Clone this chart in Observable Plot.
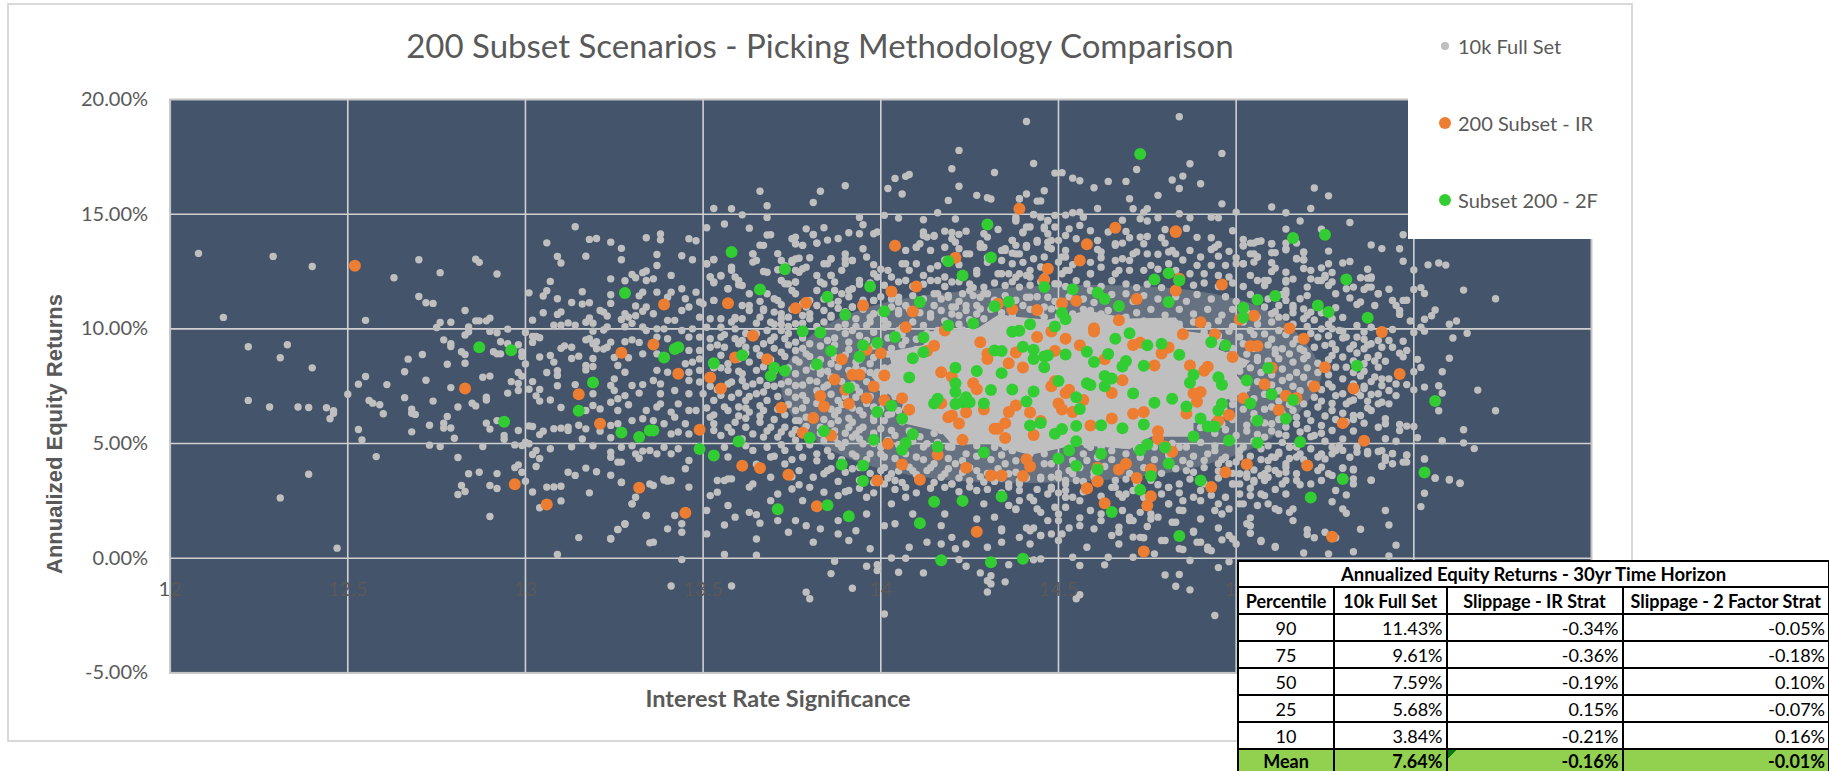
<!DOCTYPE html>
<html><head><meta charset="utf-8">
<script src="https://cdn.jsdelivr.net/npm/d3@7"></script>
<script src="https://cdn.jsdelivr.net/npm/@observablehq/plot@0.6"></script>
<style>
html,body{margin:0;padding:0;background:#fff;width:1829px;height:771px;overflow:hidden}
#root{position:relative;width:1829px;height:771px;font-family:Lato,sans-serif;color:#595959}
#root svg{position:absolute;left:0;top:0}
.abs{position:absolute;white-space:nowrap}
.sw{position:absolute;border-radius:50%}
table{position:absolute;left:1237px;top:560px;border-collapse:collapse;table-layout:fixed;width:591px;font-family:Lato,sans-serif;color:#000;background:#fff;font-size:18px}
td{border:2px solid #000;padding:0 3px;line-height:1;overflow:hidden;white-space:nowrap;box-sizing:border-box}
td.n{text-align:right}td.c{text-align:center}
tr.h td{font-weight:700;text-align:center}
tr.m td{background:#92d050;font-weight:700}
td.flag{background:linear-gradient(135deg,#0a7a0a 0 6px,#92d050 6px)!important}
</style></head><body><div id="root"></div>
<script>
const xGridValues=[12.5,13,13.5,14,14.5,15,15.5];
const xLabelValues=[12,12.5,13,13.5,14,14.5,15];
const yTickValues=[-5,0,5,10,15,20];
const coreOutline=[14,7.4,13.97,8,14.03,8.5,14.02,9,14.12,9.3,14.14,9.9,14.27,10,14.33,10.6,14.47,10.4,14.58,10.8,14.7,10.45,14.83,10.5,14.86,9.9,14.96,9.7,14.95,9.1,15.04,8.6,15,8,15.04,7.3,14.97,6.9,14.98,6.2,14.88,5.9,14.88,5.3,14.76,5.3,14.7,4.75,14.55,4.95,14.42,4.5,14.3,5,14.2,4.95,14.17,5.5,14.06,5.9,14.07,6.6];
const midOutline=[13.72,7.5,13.76,9,13.85,10.2,14,11.1,14.2,11.6,14.5,11.9,14.8,11.8,15,11.3,15.12,10.5,15.2,9.3,15.24,8,15.2,6.8,15.12,5.5,15,4.5,14.8,3.7,14.5,3.3,14.2,3.4,14,3.9,13.85,4.8,13.76,6];
const fullSet=[
12.08,13.29,12.29,13.16,12.40,12.72,12.15,10.50,12.55,10.37,12.22,9.22,12.33,9.31,12.31,8.74,12.63,12.23,12.70,13.01,12.76,12.45,12.86,13.04,12.87,12.90,12.92,12.39,12.70,11.41,12.72,11.14,12.74,11.11,12.83,10.80,12.76,10.28,12.79,10.29,12.75,10.06,12.86,10.35,12.87,10.35,12.89,10.35,12.90,10.47,12.84,10.08,12.84,9.87,12.83,9.73,12.90,9.89,12.92,9.83,12.95,9.99,12.77,9.52,12.79,9.35,12.79,9.23,12.71,8.88,12.67,8.68,12.82,9.0,12.83,8.88,12.93,9.44,12.95,9.35,12.98,9.31,12.91,9.0,12.92,8.91,12.93,8.91,12.99,8.99,12.99,8.8,13.00,9.84,13.02,9.67,13.03,9.67,13.04,9.61,13.02,9.41,13.14,14.45,13.06,13.75,13.18,13.9,13.20,13.94,13.24,13.78,13.27,13.51,13.34,13.97,13.09,13.16,13.10,12.87,13.17,13.17,13.27,13.01,13.24,12.18,13.28,12.1,13.30,12.37,13.31,12.23,13.33,12.45,13.34,12.52,13.34,12.11,13.07,12.07,13.01,11.57,13.06,11.66,13.05,11.43,13.09,11.31,13.16,11.62,13.13,11.15,13.16,11.08,13.18,11.14,13.24,11.11,13.24,11.49,13.32,11.44,13.33,11.6,13.31,11.0,13.05,10.7,13.10,10.74,13.09,10.63,13.02,10.38,13.08,10.16,13.10,10.16,13.12,10.26,13.14,10.16,13.17,10.29,13.18,10.48,13.19,10.25,13.21,10.8,13.22,10.73,13.23,10.56,13.27,10.41,13.28,10.66,13.29,10.51,13.31,10.57,13.33,10.77,13.34,10.95,13.30,10.24,13.28,10.09,13.33,10.08,13.23,10.08,13.22,9.95,13.19,9.9,13.34,9.93,13.17,9.52,13.18,9.57,13.19,9.35,13.20,9.44,13.24,9.42,13.28,9.44,13.30,9.52,13.32,9.41,13.10,9.15,13.11,9.26,13.13,9.2,13.20,9.13,13.22,9.12,13.23,9.2,13.04,8.77,13.07,8.84,13.13,8.71,13.15,8.81,13.19,8.71,13.25,8.75,13.29,8.74,13.33,8.91,
12.40,8.3,12.22,6.88,12.28,6.59,12.36,6.59,12.39,6.57,12.44,6.56,12.46,6.43,12.46,6.32,12.45,6.08,12.50,7.15,12.55,7.92,12.53,7.59,12.61,7.57,12.66,8.13,12.72,7.76,12.56,6.88,12.57,6.76,12.59,6.69,12.60,6.3,12.66,7.0,12.74,6.85,12.68,6.5,12.68,6.32,12.69,6.27,12.68,5.51,12.53,5.61,12.54,5.16,12.73,5.8,12.77,5.89,12.77,5.68,12.79,5.68,12.78,6.18,12.79,7.44,12.78,8.46,12.83,8.5,12.88,7.89,12.90,7.94,12.81,6.59,12.85,6.76,12.86,6.64,12.89,6.9,12.89,7.02,12.95,7.2,12.89,5.89,12.90,5.63,12.92,6.0,12.80,5.23,12.73,4.93,12.76,4.87,12.88,4.87,12.98,5.57,12.94,5.35,12.94,5.19,12.97,4.94,12.99,4.91,12.58,4.43,12.81,4.39,12.39,3.66,12.31,2.63,12.47,0.44,12.84,3.68,12.87,3.75,12.92,3.69,12.97,3.95,12.98,4.07,12.99,3.75,13.0,3.36,12.82,3.17,12.81,2.78,12.83,2.91,12.90,3.17,12.92,3.04,12.90,1.82,13.0,8.47,12.98,8.1,12.99,7.94,12.96,7.7,12.98,7.62,12.98,7.31,13.01,7.37,13.02,7.7,13.04,7.36,13.03,7.08,13.04,6.85,13.07,6.9,13.10,6.57,13.06,8.1,13.09,7.97,13.09,8.18,13.08,8.55,13.14,7.57,13.09,7.52,13.01,5.77,13.02,5.74,13.05,5.54,13.04,5.39,13.08,5.65,13.10,5.67,13.12,5.71,13.12,5.57,13.15,5.8,13.17,5.64,13.16,5.2,13.01,4.99,13.0,5.06,13.07,4.77,13.13,4.86,13.03,4.7,13.02,4.52,13.04,4.35,13.03,4.0,13.12,3.75,13.14,3.61,13.17,3.93,13.20,3.77,13.24,3.62,13.27,3.3,13.02,2.89,13.06,3.1,13.08,3.11,13.10,3.14,13.18,2.85,13.10,2.5,13.04,2.2,13.31,2.66,13.30,2.37,13.34,1.86,13.28,1.48,13.26,1.25,13.15,0.9,13.24,0.86,13.09,0.16,13.35,0.67,13.19,8.36,13.17,8.4,13.17,8.21,13.26,8.4,13.28,8.11,13.24,7.53,13.25,7.31,13.25,7.82,13.19,7.17,13.30,7.53,13.33,7.57,13.32,7.2,13.28,7.09,13.26,6.95,13.24,6.8,13.29,6.69,13.26,6.44,13.19,6.66,13.21,6.51,13.17,6.44,13.34,6.44,13.30,6.0,13.33,6.08,13.26,5.86,13.24,5.79,13.21,5.54,13.24,5.25,13.27,4.84,13.30,4.9,13.19,4.9,13.24,4.62,13.24,4.4,13.26,4.19,13.27,4.19,13.31,4.55,13.32,4.36,13.33,4.67,13.35,4.7,13.35,3.24,
15.47,14.1,15.38,13.66,15.41,13.5,15.46,13.49,15.47,12.95,15.54,12.79,15.57,12.87,15.59,12.78,15.50,12.57,15.64,11.69,15.52,11.8,15.50,11.72,15.53,11.54,15.73,11.31,15.43,11.73,15.40,11.53,15.36,11.72,15.38,11.82,15.44,11.24,15.45,11.02,15.47,11.24,15.48,11.25,15.46,10.8,15.46,10.63,15.39,11.02,15.35,11.17,15.56,10.82,15.55,10.57,15.53,10.42,15.49,10.34,15.60,10.2,15.62,10.34,15.52,10.07,15.53,9.9,15.50,9.84,15.44,9.97,15.65,9.81,15.61,9.6,15.47,9.46,15.43,9.49,15.48,9.06,15.44,9.2,15.46,8.94,15.47,8.78,15.51,8.67,15.60,8.72,15.52,8.32,15.50,8.13,15.58,8.13,15.57,7.52,15.53,7.46,15.58,7.2,15.68,7.33,15.50,7.34,15.48,7.57,15.57,6.43,15.73,6.43,15.64,5.6,15.58,5.12,15.64,5.03,15.67,4.78,15.51,5.25,15.50,5.74,15.48,5.76,15.46,5.83,15.46,5.57,15.45,5.1,15.42,6.08,15.42,5.86,15.40,5.71,15.36,5.89,15.42,5.21,15.40,4.65,15.37,4.65,15.44,4.57,15.48,4.49,15.53,4.33,15.47,4.19,15.41,4.01,15.44,4.12,15.42,4.26,15.56,3.5,15.60,3.43,15.63,3.27,15.38,3.4,15.30,3.94,15.33,3.88,15.33,3.24,
15.26,13.39,15.30,12.87,15.32,12.94,15.37,12.6,15.26,12.84,15.19,13.35,15.17,13.05,15.19,13.01,15.10,13.32,15.10,13.71,15.14,13.49,15.06,13.81,15.04,13.74,15.02,13.64,15.04,13.27,15.06,13.13,15.05,12.91,15.02,12.84,15.10,12.88,15.11,12.65,15.14,12.47,15.19,12.63,15.21,12.55,15.24,12.66,15.27,12.46,15.35,12.23,15.38,12.21,15.21,12.18,15.25,12.25,15.23,12.11,15.26,11.89,15.28,11.53,15.31,11.75,15.33,11.82,15.32,11.35,15.34,11.06,15.28,10.92,15.2,11.82,15.2,11.45,15.18,11.31,15.16,12.17,15.14,12.04,15.08,12.11,15.08,11.89,15.14,11.67,15.12,11.02,15.14,11.24,15.16,11.02,15.19,10.87,15.21,10.73,15.12,10.51,15.19,10.44,15.22,10.39,15.27,10.44,15.24,10.0,15.27,10.0,15.29,9.93,15.34,10.15,15.36,9.86,15.38,10.07,15.31,9.64,15.34,9.64,15.38,9.35,15.40,9.49,15.41,9.2,15.40,8.84,15.36,9.13,15.32,9.13,15.27,9.35,15.25,9.28,15.23,9.64,15.27,8.84,15.30,8.77,15.2,8.84,15.15,8.91,15.13,9.13,15.18,9.13,15.28,8.33,15.31,8.33,15.36,8.48,15.40,8.33,15.42,8.59,15.39,7.9,15.41,7.82,15.43,7.82,15.45,7.6,15.41,7.53,15.43,7.31,15.45,7.09,15.40,7.17,15.38,7.14,15.35,7.09,15.30,7.82,15.27,7.46,15.28,7.09,15.30,7.17,15.19,7.89,15.15,7.89,15.22,7.02,15.23,6.59,15.27,6.44,15.31,6.73,15.35,6.22,15.38,6.44,15.41,6.8,15.43,6.73,15.40,6.73,15.33,6.22,15.30,6.32,15.21,6.0,15.24,5.79,15.27,5.57,15.22,5.35,15.27,4.84,15.29,4.91,15.34,4.84,15.34,4.62,15.21,4.77,15.25,4.33,15.27,4.55,15.23,4.41,15.15,4.84,15.17,4.41,15.12,4.62,15.10,4.41,15.14,4.12,15.11,3.83,15.08,3.68,15.17,3.68,15.23,3.82,15.27,3.61,15.21,3.24,15.13,3.24,15.05,3.32,14.99,3.24,15.03,3.53,14.98,4.12,14.95,4.12,14.87,4.12,15.01,4.41,15.08,5.28,15.12,5.42,15.14,5.72,15.10,5.86,15.17,6.15,15.19,6.73,15.10,6.59,15.13,7.75,15.11,8.91,15.06,8.62,15.02,8.48,15.04,9.93,15.08,9.78,15.12,9.93,15.10,10.66,15.08,10.95,15.14,10.51,
14.41,19.04,14.84,19.25,14.43,17.21,14.49,16.79,14.51,16.81,14.54,16.57,14.56,16.46,14.60,16.15,14.64,16.43,14.69,16.43,14.72,16.95,14.82,16.49,14.85,16.66,14.87,17.2,14.90,16.33,14.84,16.12,14.96,17.65,14.78,15.82,14.70,15.67,14.96,15.45,14.46,16.02,14.41,15.88,14.39,15.67,14.45,15.58,14.61,15.25,14.71,15.24,14.75,15.24,14.74,15.09,15.22,16.14,15.26,15.8,15.10,15.31,15.14,15.06,15.21,15.25,15.0,15.09,15.18,14.7,15.32,14.64,15.14,14.35,15.24,14.34,
14.84,15.02,14.87,14.84,14.93,14.87,14.95,14.84,14.78,14.84,14.68,14.74,14.73,14.8,14.75,14.7,14.86,14.38,14.99,14.28,14.80,14.33,14.89,13.99,14.93,13.97,15.02,13.9,15.02,13.61,15.05,13.74,15.07,13.83,15.10,13.71,15.11,13.32,15.14,13.74,15.17,13.74,15.14,13.45,15.19,13.33,15.17,13.07,15.19,13.01,15.05,13.27,15.06,13.13,15.02,12.84,14.94,13.56,14.95,13.68,14.87,13.42,14.90,13.13,14.95,13.17,14.98,13.38,14.93,13.46,14.82,13.42,14.81,13.35,14.83,13.27,14.73,14.0,14.75,14.03,14.79,13.97,14.80,13.74,14.70,13.97,14.68,13.74,14.74,13.71,14.72,13.35,14.75,13.27,14.78,13.25,14.66,13.64,14.64,14.22,14.69,14.25,14.59,14.28,14.55,13.93,14.53,14.36,14.56,14.51,14.56,15.09,14.54,15.06,14.52,14.96,14.57,14.87,14.45,14.87,14.47,14.7,14.49,14.95,14.43,14.99,14.38,14.87,14.38,14.7,14.42,14.44,14.40,14.22,14.46,14.36,14.49,14.44,14.47,14.15,14.52,14.07,14.37,13.86,14.44,13.78,14.50,13.86,14.48,13.86,14.41,13.61,14.48,13.49,14.38,13.64,14.35,13.49,14.37,13.3,14.43,13.06,14.46,13.13,14.50,12.91,14.52,13.13,14.61,13.46,14.62,13.35,14.66,12.98,14.68,13.06,14.71,13.27,14.70,12.98,14.81,12.84,14.76,12.77,14.74,12.55,14.89,12.77,14.93,12.77,14.97,12.77,15.0,12.84,14.91,12.4,14.95,12.33,14.98,12.26,14.87,12.4,14.70,12.55,14.66,12.4,14.62,12.69,14.59,12.4,14.53,12.55,14.51,12.4,14.46,12.26,14.39,12.4,14.36,12.4,15.37,12.21,15.38,12.26,15.37,11.82,15.24,12.11,15.25,12.33,15.27,12.04,15.14,12.11,15.09,12.11,15.06,12.11,15.04,12.33,15.14,11.53,15.40,11.53,
14.22,17.78,14.20,16.98,14.32,16.82,14.08,16.73,14.07,16.65,14.04,16.56,14.02,16.12,14.06,15.88,14.22,16.22,14.27,15.82,14.19,15.6,14.30,15.72,14.31,15.66,14.39,15.67,14.44,15.57,13.90,16.24,13.83,16.0,13.66,16.0,13.81,15.51,13.68,15.37,13.53,15.25,13.58,15.24,13.61,14.97,13.68,14.86,13.94,14.86,14.16,15.06,14.01,14.95,14.05,14.83,14.12,14.76,14.21,14.79,14.43,14.97,14.47,14.73,13.51,14.41,13.56,14.57,13.63,14.39,13.79,14.36,13.84,14.41,13.68,14.09,13.81,14.1,13.95,14.54,13.94,14.15,13.91,14.19,13.98,14.15,13.99,14.22,13.75,13.93,13.82,13.74,13.85,13.87,13.88,13.94,13.66,13.65,13.76,13.71,13.78,13.64,14.12,14.22,14.15,14.04,14.18,14.26,14.20,14.2,14.24,14.26,14.33,14.33,14.29,14.15,14.41,14.44,14.38,14.77,14.46,14.44,14.44,13.86,14.40,14.19,14.37,13.86,14.22,14.12,14.13,14.0,14.11,13.71,14.10,13.56,14.07,13.42,14.14,13.42,14.21,13.78,14.18,13.56,14.28,13.71,14.29,13.56,14.25,13.27,14.34,13.42,14.38,13.27,14.41,13.64,14.47,13.56,13.51,12.84,13.53,13.01,13.64,13.27,13.65,12.98,13.72,12.98,13.77,13.08,13.86,13.06,13.90,13.27,13.95,13.49,13.96,13.13,13.92,12.98,13.85,12.84,13.79,12.69,13.90,12.84,13.58,12.69,13.52,12.26,13.55,12.3,13.59,12.26,13.53,12.01,13.57,11.75,13.60,11.92,13.67,12.5,13.71,12.58,13.76,12.55,13.73,11.97,13.77,12.47,13.76,12.04,13.83,12.04,13.86,12.33,13.91,11.67,13.94,11.94,13.99,12.26,14.02,12.55,14.06,12.84,14.08,12.55,14.14,12.11,14.18,12.26,14.12,12.33,14.27,12.4,14.34,12.98,14.37,12.84,14.34,12.4,14.41,12.33,14.51,13.13,13.50,11.09,13.53,11.24,13.59,10.5,13.63,11.02,13.67,10.8,13.71,11.24,13.75,11.67,13.80,11.24,13.87,11.67,13.92,10.95,13.98,11.24,14.05,11.38,14.16,11.53,14.19,11.38,14.25,11.67,14.29,11.53,14.42,12.26,14.49,11.97,13.72,10.66,13.80,10.66,13.86,10.51,13.97,10.51,14.05,10.8,14.14,10.66,14.21,10.95,14.27,11.02,14.42,11.38,14.46,10.95,
13.41,-1.21,13.58,-1.21,13.79,-1.48,13.80,-1.77,13.92,-1.31,14.01,-2.43,13.86,-0.67,13.96,-0.35,13.99,-0.28,13.99,-0.54,14.05,-0.61,14.12,-0.64,14.28,-0.64,14.31,-0.76,14.30,-0.98,14.31,-1.12,14.35,-1.03,14.30,-1.47,14.56,-1.59,14.55,-1.77,14.8,-0.73,14.84,-0.71,14.83,-1.22,14.87,-1.38,14.94,-2.5,14.95,-0.41,14.98,-0.15,14.87,-0.1,14.63,-0.29,14.56,-0.32,14.24,-0.35,14.22,-0.06,14.07,0.0,14.03,0.01,13.87,-0.13,13.65,0.13,13.56,0.16,13.44,-0.06,14.45,-0.03,14.43,-0.07,14.36,-0.28,14.77,0.19,14.71,0.04,14.64,0.04,14.54,0.04,14.92,0.38,14.98,0.99,15.0,0.62,14.84,0.41,14.89,0.7,14.88,1.13,14.79,0.77,14.67,0.62,14.73,0.91,14.58,0.48,14.5,0.77,14.45,0.99,14.42,0.62,14.39,0.91,14.34,0.7,14.30,0.48,14.24,0.62,14.21,0.41,14.20,0.91,14.17,0.62,14.13,0.7,14.08,0.48,13.97,0.41,13.91,0.77,13.88,1.06,13.81,0.7,13.74,1.13,13.65,0.84,13.51,1.06,13.44,1.13,13.36,0.7,13.24,0.84,13.26,1.25,13.28,1.5,13.34,1.86,13.40,1.28,13.42,1.86,13.44,1.5,13.56,1.45,13.66,1.53,13.59,1.79,13.65,1.9,13.71,1.64,13.76,1.64,13.79,1.42,13.83,1.28,13.88,1.64,13.93,1.2,14.01,1.42,14.04,1.5,13.96,1.93,14.09,1.93,14.17,1.42,14.18,1.93,14.27,1.71,14.34,1.28,14.32,1.79,14.42,1.2,14.47,1.64,14.50,1.93,14.56,1.42,14.60,1.28,14.67,1.13,14.71,1.64,14.78,1.79,14.83,1.57,14.84,2.09,14.76,1.93,14.59,2.08,14.52,2.22,14.44,2.15,14.38,2.15,14.29,2.37,14.07,2.66,14.03,2.37,13.96,2.66,13.88,2.73,13.78,2.51,13.71,2.8,13.63,2.0,13.57,2.3,13.51,2.08,13.52,2.73,13.54,2.88,13.39,3.41,13.40,3.36,13.36,3.17,13.30,2.37,13.27,3.31,13.46,3.1,13.54,3.39,13.57,3.46,13.64,3.24,13.69,2.51,13.75,3.02,13.80,3.09,13.84,2.88,13.91,2.95,14.01,3.24,14.07,3.09,14.18,3.09,14.27,2.95,14.42,2.66,14.47,2.8,14.54,2.66,14.69,2.8,14.81,2.37,14.88,2.66,14.97,2.66,14.94,2.08,15.02,2.37,15.07,0.77,15.11,0.48,15.03,1.5,15.12,2.08,15.07,2.8,15.16,1.64,
15.42,2.08,15.43,1.45,15.35,1.26,15.25,1.13,15.28,0.89,15.20,1.24,15.20,1.03,15.22,0.89,15.45,0.57,15.33,0.28,15.19,0.23,15.26,0.19,15.43,0.1,15.11,0.51,15.07,0.73,15.04,1.09,15.04,1.42,15.04,1.76,15.53,4.33,15.56,3.49,15.60,3.41,15.63,3.27,15.53,2.83,15.52,2.25,15.38,3.4,15.31,2.76,15.27,2.46,15.30,2.15,15.31,1.96,15.16,2.15,15.15,2.0,15.11,2.16,15.14,2.8,15.28,2.95,15.48,4.19,15.44,4.55,15.48,4.5,15.42,4.4,15.41,4.01,15.30,3.92,15.33,3.85,15.33,3.46,15.08,2.73,15.04,2.73,15.09,2.37,15.01,2.37,15.06,2.3,15.01,2.8,14.85,0.38,14.92,0.48,14.93,0.33,14.90,0.7,14.96,0.8,14.95,1.32,14.90,1.71,14.99,0.84,14.88,1.18,14.80,0.77,14.74,0.89,14.71,0.92,14.75,1.38,14.70,1.64,14.62,1.64,14.53,1.32,14.51,1.06,14.48,1.06,14.45,0.99,14.43,1.32,14.41,1.32,14.34,1.2,14.65,0.99,14.67,1.35,14.38,2.12,14.45,2.0,14.50,1.64,14.56,1.76,14.62,1.93,14.70,1.79,14.76,1.71,14.82,1.57,14.85,2.08,14.96,1.93,14.98,2.15,14.81,2.37,14.85,2.51,14.90,2.51,14.95,2.37,14.73,2.0,14.79,2.8,14.68,2.08,14.56,2.51,14.52,2.66,14.48,3.02,14.43,2.51,14.39,2.51,14.36,2.3,14.49,2.22,
13.38,14.14,13.38,13.88,13.46,13.93,13.48,13.84,13.69,14.1,13.76,14.0,13.81,14.12,13.67,13.64,13.76,13.71,13.78,13.64,13.82,13.74,13.37,13.24,13.44,13.19,13.47,13.01,13.64,13.27,13.64,12.91,13.53,13.03,13.76,13.05,13.75,12.98,13.78,12.62,13.84,12.84,13.86,13.05,13.90,13.05,13.92,12.98,13.89,12.55,13.37,12.76,13.51,12.84,13.58,12.55,13.68,12.47,13.82,12.33,13.86,12.33,13.41,12.33,13.52,12.26,13.55,12.33,13.60,12.11,13.72,12.11,13.76,12.04,13.84,11.96,13.87,12.04,13.92,11.75,13.94,12.11,13.36,12.18,13.53,12.04,13.61,11.89,13.74,11.96,13.37,11.6,13.41,11.6,13.44,11.75,13.48,11.6,13.57,11.75,13.63,11.53,13.68,11.53,13.70,11.31,13.76,11.53,13.82,11.67,13.89,11.53,13.45,11.31,13.40,11.38,13.46,10.95,13.49,11.17,13.53,11.24,13.61,11.02,13.63,10.8,13.67,10.87,13.70,10.73,13.74,10.51,13.82,11.02,13.86,11.09,13.92,10.95,13.98,11.24,13.44,10.8,13.36,10.66,13.40,10.37,13.42,10.37,13.49,10.51,13.52,10.44,13.55,10.44,13.59,10.44,13.61,10.44,13.66,10.51,13.69,10.29,13.72,10.44,13.78,10.58,13.80,10.44,13.86,10.58,13.93,10.44,13.98,10.66,14.05,10.66,13.37,10.0,13.39,10.0,13.44,9.93,13.47,10.0,13.51,10.07,13.55,10.07,13.59,10.0,13.68,9.93,13.72,9.93,13.76,10.22,13.88,10.07,13.92,9.93,13.96,10.15,14.01,10.07,13.37,9.64,13.40,9.57,13.46,9.64,13.49,9.64,13.52,9.57,13.55,9.64,13.59,9.57,13.61,9.49,13.69,9.49,13.73,9.57,13.76,9.42,13.80,9.35,13.85,9.49,13.91,9.42,14.07,9.49,13.46,9.06,13.49,9.06,13.56,9.2,13.65,9.13,13.72,8.98,13.76,9.06,13.79,8.91,13.37,8.91,13.47,8.55,13.49,8.69,13.45,8.48,13.57,8.48,13.63,8.55,13.77,8.55,13.86,8.48,13.97,8.48,14.04,8.62,13.37,8.19,13.40,8.11,13.46,8.11,13.49,8.19,13.57,8.19,13.61,8.04,13.65,8.19,13.76,8.04,13.83,8.04,13.99,8.11,13.36,7.75,13.38,7.6,13.46,7.75,13.49,7.68,13.58,7.68,13.61,7.75,13.64,7.6,13.68,7.53,13.72,7.6,13.76,7.53,13.80,7.75,13.38,7.17,13.42,7.31,13.46,7.17,13.50,7.17,13.53,6.88,13.58,7.02,13.62,6.88,13.65,7.17,13.68,6.88,13.76,7.02,13.79,6.88,13.88,6.88,13.37,6.59,13.38,6.73,13.41,6.37,13.43,6.73,13.46,6.44,13.48,6.44,13.52,6.15,13.57,6.44,13.60,6.59,13.63,6.37,13.67,6.44,13.76,6.44,13.79,6.15,13.36,6.0,13.39,5.86,13.42,6.15,13.45,5.86,13.53,5.86,13.59,5.93,13.62,5.71,13.66,5.93,13.69,5.71,13.73,5.71,13.76,6.0,13.88,6.0,13.92,5.93,13.98,6.0,13.41,5.42,13.43,5.5,13.46,5.42,13.53,5.57,13.55,5.35,13.58,5.5,13.64,5.42,13.67,5.28,13.71,5.28,13.75,5.42,13.83,5.71,13.93,5.42,14.03,5.57,13.39,4.84,13.43,4.77,13.41,4.55,13.37,4.55,13.46,4.26,13.45,3.9,13.56,4.84,13.57,4.41,13.64,4.7,13.68,4.84,13.69,4.41,13.73,4.7,13.77,4.84,13.82,4.55,13.85,4.7,13.89,4.84,13.92,4.55,13.97,4.55,14.01,4.41,14.10,4.41,14.20,4.84,13.39,3.46,13.41,3.39,13.56,3.39,13.58,3.46,13.63,3.1,13.69,3.53,13.73,4.11,13.77,3.82,13.81,3.53,13.85,3.82,13.92,3.9,14.0,3.82,14.04,3.39,14.08,3.97,14.13,3.82,14.18,3.68,14.21,4.12,14.27,3.82,14.29,3.32,14.36,3.68,14.45,3.53,14.48,4.12,14.53,3.82,14.55,3.39,14.66,3.39,
14.10,13.56,14.12,14.07,14.15,14.07,14.20,13.93,14.22,13.49,14.24,13.27,14.28,13.56,14.30,14.0,14.35,13.42,14.39,13.27,14.41,13.56,14.47,13.78,14.52,13.42,14.61,13.85,14.66,13.71,14.07,12.84,14.10,12.84,14.14,12.62,14.27,12.55,14.33,12.4,14.38,12.25,14.42,12.55,14.52,12.55,14.59,12.4,14.67,12.55,13.98,12.4,14.03,12.26,14.07,12.11,14.16,12.11,14.20,12.04,14.25,11.96,14.29,11.82,14.35,11.89,14.39,11.82,14.50,11.96,14.58,11.96,14.69,11.96,14.15,11.53,14.19,11.46,14.23,11.53,14.28,11.38,14.30,11.53,14.41,11.38,14.47,11.38,14.59,11.67,14.69,11.53,14.05,11.17,14.07,11.02,14.15,11.02,14.20,10.95,14.24,11.02,14.28,10.87,14.40,11.02,14.48,10.87,14.59,10.8,14.64,10.8,14.69,10.51,14.01,10.37,14.14,10.51,14.22,10.58,14.29,10.44,14.35,10.44,14.46,10.51,14.57,10.37,14.63,10.44,13.96,9.49,14.05,9.93,14.16,9.93,13.93,8.55,13.83,8.19,13.86,7.9,13.91,8.19,13.95,8.19,13.84,7.46,13.93,7.46,13.99,7.6,13.93,7.02,13.88,6.44,13.94,6.44,13.98,6.59,14.05,6.44,13.86,5.86,13.91,5.71,13.95,5.71,14.01,6.0,14.09,6.0,13.88,4.99,13.92,5.28,13.95,4.99,14.0,4.84,14.13,4.99,14.17,5.57,14.25,5.28,14.29,5.42,14.32,4.84,14.37,4.7,14.37,5.57,14.46,4.99,14.59,4.84,14.66,4.99,14.24,4.55,14.35,4.12,14.46,4.12,14.58,4.26,14.15,4.12,14.20,3.24,14.25,3.1,14.36,3.1,14.48,3.1,13.84,3.68,14.03,3.68,14.09,3.82,14.17,3.53,14.20,3.24,14.25,3.38,14.39,3.24,14.45,3.46,14.52,3.24,14.54,3.68,14.66,3.09,14.68,2.66,14.81,3.09,14.84,3.24,14.99,3.24,15.03,3.68,15.08,3.39,15.12,3.68,15.11,3.0,14.37,4.69,14.46,4.55,14.57,4.55,14.65,4.69,14.84,4.84,14.85,4.26,14.91,4.26,14.97,4.4,14.94,4.69,15.01,4.69,15.07,4.77,15.09,4.26,15.12,4.55,15.14,3.97,15.18,4.55,15.24,4.55,15.28,4.69,15.32,4.4,15.37,4.55,15.41,4.69,15.01,3.68,15.05,3.39,15.09,3.53,15.14,3.39,15.17,3.39,15.24,3.39,15.26,3.68,15.24,3.97,15.01,3.24,14.81,3.09,14.86,3.82,14.52,3.39,14.48,3.53,14.39,3.39,14.36,3.24,14.52,2.95,14.65,3.09,14.67,2.8
];
const fullSetDense=[
13.97,12.0,14.01,11.9,14.05,12.05,14.09,11.85,14.12,11.95,14.18,11.85,14.22,12.05,14.26,11.8,14.32,12.0,14.37,12.05,14.42,11.9,14.45,12.05,14.52,11.85,14.55,12.1,14.62,11.85,14.65,12.1,14.72,11.8,14.75,11.95,14.79,11.8,14.88,11.9,14.91,12.0,14.95,11.85,14.99,12.0,15.02,11.85,
13.84,11.3,13.88,11.2,13.91,11.4,13.95,11.25,14.0,11.4,14.03,11.3,14.09,11.45,14.12,11.3,14.17,11.3,14.22,11.2,14.26,11.45,14.32,11.25,14.35,11.45,14.38,11.25,14.44,11.4,14.49,11.2,14.53,11.4,14.57,11.3,14.6,11.15,14.65,11.5,14.71,11.2,14.74,11.45,14.78,11.3,14.83,11.4,14.86,11.2,14.89,11.5,14.93,11.3,14.97,11.4,15.0,11.2,15.04,11.5,15.09,11.3,15.13,11.5,
13.75,10.85,13.79,10.95,13.84,10.8,13.88,10.9,13.9,10.75,13.95,10.85,14.0,10.7,14.03,10.95,14.08,10.85,14.11,10.7,14.17,10.8,14.2,10.65,14.24,10.8,14.27,10.65,14.31,10.85,14.34,10.7,14.37,10.6,14.42,10.85,14.45,10.7,14.5,10.95,14.54,10.65,14.57,10.85,14.62,10.65,14.67,10.9,14.72,10.7,14.76,10.85,14.8,10.6,14.84,10.85,14.88,10.65,14.92,10.85,14.96,10.6,14.99,10.85,15.03,10.7,15.06,10.5,15.11,10.75,15.16,10.7,15.2,10.6,
13.7,10.2,13.74,10.1,13.78,10.25,13.82,10.1,13.84,10.3,13.9,10.2,13.93,10.1,13.97,10.3,14.02,10.2,14.06,10.05,14.09,10.3,14.12,10.15,14.18,10.35,14.22,10.2,14.25,10.4,14.32,10.3,14.37,10.5,14.5,10.55,14.68,10.45,14.74,10.35,14.79,10.3,14.84,10.2,14.88,10.3,14.92,10.15,14.95,10.35,14.99,10.1,15.02,10.3,15.06,10.2,15.1,10.3,15.16,10.2,15.2,10.1,15.26,10.2,
13.65,9.8,13.7,9.65,13.74,9.8,13.78,9.6,13.83,9.75,13.87,9.6,13.9,9.8,13.94,9.7,13.98,9.85,14.02,9.6,14.06,9.75,14.1,9.55,14.13,9.8,14.19,9.75,14.23,9.95,14.91,9.85,14.95,9.7,14.98,9.9,15.01,9.65,15.05,9.75,15.1,9.55,15.14,9.75,15.17,9.55,15.21,9.8,15.26,9.7,15.3,9.6,
13.62,9.2,13.67,9.35,13.7,9.15,13.74,9.3,13.78,9.15,13.83,9.25,13.87,9.3,13.91,9.1,13.95,9.05,13.98,9.25,14.03,9.15,14.06,9.3,14.1,9.1,14.14,9.35,14.96,9.4,14.99,9.15,15.02,9.35,15.05,9.15,15.09,9.3,15.11,9.1,15.16,9.35,15.19,9.05,15.22,9.2,15.28,9.1,15.33,9.3,
13.6,8.7,13.66,8.85,13.69,8.65,13.73,8.8,13.76,8.65,13.8,8.8,13.83,8.65,13.87,8.75,13.9,8.85,13.94,8.65,13.98,8.75,14.02,8.9,14.05,8.75,14.98,8.85,15.0,8.7,15.03,8.9,15.06,8.75,15.09,8.6,15.12,8.7,15.16,8.55,15.19,8.7,15.23,8.5,15.26,8.65,15.33,8.6,
13.55,8.3,13.6,8.15,13.67,8.35,13.7,8.15,13.74,8.3,13.79,8.2,13.81,8.35,13.85,8.15,13.88,8.35,13.93,8.3,13.97,8.1,14.01,8.3,14.04,8.1,14.99,8.35,15.01,8.15,15.04,8.3,15.07,8.1,15.1,8.0,15.13,8.25,15.17,8.1,15.2,8.3,15.23,8.1,15.26,8.0,15.33,8.1,15.36,8.15,
13.57,7.6,13.62,7.5,13.66,7.75,13.7,7.5,13.74,7.7,13.78,7.55,13.82,7.7,13.85,7.55,13.89,7.7,13.92,7.55,13.96,7.7,14.0,7.45,14.03,7.65,15.0,7.7,15.03,7.5,15.06,7.7,15.1,7.55,15.12,7.3,15.16,7.5,15.18,7.3,15.21,7.6,15.24,7.35,15.26,7.6,15.33,7.6,15.36,7.5,
13.55,7.1,13.6,7.2,13.63,7.05,13.67,7.25,13.71,7.05,13.74,7.25,13.78,7.1,13.82,7.3,13.86,7.15,13.9,7.05,13.94,7.25,13.97,7.05,14.01,7.25,14.04,7.05,14.99,7.0,15.02,7.2,15.05,6.95,15.08,7.15,15.12,6.85,15.15,6.7,15.17,6.85,15.24,6.85,15.27,6.75,15.33,6.9,15.37,6.85,
13.56,6.6,13.62,6.55,13.66,6.65,13.71,6.5,13.74,6.7,13.78,6.55,13.82,6.75,13.86,6.5,13.89,6.7,13.92,6.55,13.96,6.75,14.0,6.5,14.03,6.3,14.07,6.55,14.95,6.55,14.99,6.7,15.02,6.5,15.05,6.3,15.08,6.5,15.13,6.3,15.16,6.45,15.2,6.3,15.25,6.2,15.28,6.05,15.33,6.05,
13.62,6.1,13.66,6.2,13.7,6.05,13.73,6.25,13.77,6.0,13.81,6.2,13.84,6.05,13.87,6.25,13.91,6.1,13.95,6.25,13.98,6.15,14.02,6.25,14.06,5.95,14.11,6.1,14.14,5.85,14.92,6.0,14.96,5.85,14.99,6.05,15.03,5.8,15.05,6.05,15.08,5.9,15.12,6.05,15.17,5.85,15.2,5.65,15.24,5.45,
13.68,5.55,13.72,5.5,13.76,5.6,13.79,5.75,13.83,5.45,13.87,5.55,13.9,5.45,13.94,5.6,13.98,5.45,14.0,5.65,14.04,5.35,14.08,5.55,14.11,5.3,14.15,5.45,14.2,5.3,14.87,5.5,14.9,5.7,14.94,5.45,14.97,5.6,15.0,5.35,15.03,5.55,15.06,5.4,15.1,5.55,15.14,5.35,15.18,5.5,15.21,5.3,15.25,5.1,
13.72,4.95,13.76,5.15,13.8,4.95,13.84,5.15,13.87,5.25,13.9,5.05,13.94,5.2,13.98,5.0,14.02,5.15,14.05,4.95,14.09,5.1,14.12,4.85,14.16,5.05,14.19,4.85,14.22,5.1,14.27,4.9,14.35,4.85,14.4,4.95,14.44,4.8,14.53,4.8,14.58,4.95,14.62,4.85,14.68,4.95,14.72,4.8,14.77,4.85,14.82,5.0,14.86,4.85,14.9,5.05,14.94,4.9,14.98,5.1,15.02,4.85,15.05,5.1,15.09,4.9,15.13,5.05,15.17,4.85,
13.78,4.4,13.82,4.25,13.86,4.45,13.89,4.3,13.93,4.45,13.96,4.3,14.0,4.55,14.04,4.35,14.07,4.55,14.12,4.3,14.16,4.55,14.19,4.35,14.23,4.25,14.27,4.45,14.31,4.3,14.34,4.5,14.38,4.25,14.42,4.55,14.5,4.45,14.54,4.25,14.61,4.4,14.65,4.3,14.69,4.55,14.73,4.4,14.77,4.3,14.81,4.5,14.88,4.45,14.92,4.55,14.96,4.3,15.0,4.2,15.04,4.45,15.07,4.3,15.11,4.4,15.15,4.35,
13.86,3.9,13.9,3.75,13.94,3.95,13.97,3.7,14.01,3.95,14.05,3.8,14.1,3.65,14.14,3.95,14.19,3.9,14.23,3.75,14.25,3.95,14.3,3.7,14.33,3.9,14.38,3.75,14.42,3.95,14.5,3.7,14.56,3.95,14.6,3.75,14.63,4.0,14.7,3.7,14.74,3.95,14.79,3.7,14.83,3.9,14.88,3.75,14.91,3.95,14.95,3.8,14.99,3.7,15.05,3.85,15.09,3.9,15.14,3.75,
13.88,3.35,13.94,3.4,13.98,3.3,14.02,3.5,14.06,3.3,14.11,3.5,14.15,3.3,14.22,3.5,14.28,3.55,14.32,3.35,14.34,3.5,14.41,3.5,14.5,3.5,14.57,3.35,14.6,3.55,14.69,3.45,14.72,3.25,14.76,3.4,14.78,3.2,14.87,3.45,14.91,3.25,14.95,3.5,15.07,3.6,
13.77,3.2,13.9,2.9,13.94,3.05,13.98,2.85,14.04,3.0,14.1,2.85,14.14,3.05,14.22,2.9,14.3,3.0,14.34,2.85,14.39,2.95,14.44,3.0,14.5,2.85,14.57,2.9,14.62,2.7,14.71,2.95,14.74,2.65,14.84,2.85,14.9,2.95,14.93,2.75,15.04,3.05,
13.75,12.9,13.71,13.28,13.73,12.75,13.8,13.1,13.98,12.8,14.0,12.6,14.16,12.75,14.18,13.0,14.22,12.8,14.3,12.9,14.3,13.1,14.4,12.9,14.45,12.7,14.54,12.8,14.59,12.9,14.62,13.1,14.78,12.6,14.83,12.55,14.85,13.0,15.0,13.1,15.1,12.5,
13.66,11.2,13.72,11.05,13.78,11.1,13.72,10.2,13.65,10.25,13.58,10.3,13.62,9.8,13.56,9.75,13.54,9.3,13.6,9.35,13.52,9.2,13.55,8.85,13.62,8.95,13.53,8.3,13.52,7.5,13.54,7.35,13.51,6.55,13.53,6.25,13.6,6.2,13.57,5.7,13.61,5.2,13.62,4.9,13.7,4.45,13.75,4.3,13.65,4.1,13.75,3.55,
15.16,10.9,15.24,10.7,15.3,10.5,15.3,9.9,15.36,9.55,15.37,9.3,15.34,8.95,15.37,8.75,15.39,8.6,15.35,7.95,15.38,7.7,15.36,7.4,15.34,7.25,15.32,6.85,15.37,6.55,15.31,5.95,15.33,5.55,15.3,5.2,15.3,4.7,15.19,4.3,15.2,4.0,15.18,3.2
];
const subsetIR=[
12.52,12.75,13.27,8.96,13.36,9.32,12.83,7.4,12.97,3.23,13.06,2.34,13.15,7.15,13.21,5.86,13.32,3.07,14.04,13.62,14.21,13.1,14.58,13.69,14.56,12.98,14.47,12.62,14.46,12.14,14.10,11.85,14.03,11.63,13.39,11.06,13.57,11.12,13.76,10.9,13.79,11.14,13.95,11.02,14.09,10.76,14.33,11.09,14.37,10.86,14.44,10.82,14.51,11.12,14.55,11.22,14.67,10.38,14.07,10.07,14.18,9.93,14.60,10.03,14.60,9.89,14.48,9.89,14.44,9.65,14.52,9.57,14.56,9.29,14.28,9.42,13.64,9.7,14.15,9.26,14.13,9.03,13.96,9.09,14.0,8.94,14.30,8.91,14.30,8.69,14.38,8.97,14.49,9.04,14.63,8.68,14.36,8.5,14.40,8.32,13.59,8.75,13.68,8.68,13.89,8.67,13.43,8.04,13.52,7.88,13.55,7.4,13.87,7.79,13.92,8.0,13.94,8.0,14.01,7.97,14.17,8.11,14.20,7.91,13.98,7.49,14.26,7.63,14.27,7.37,13.90,7.34,13.83,7.07,13.96,6.98,14.01,6.89,14.06,6.98,14.68,7.76,14.48,7.5,14.49,7.72,14.52,7.2,14.53,7.34,14.57,6.9,14.65,7.2,13.84,6.62,13.91,6.73,13.72,6.56,14.50,6.75,14.51,6.48,14.38,6.66,14.36,6.38,14.17,6.76,14.08,6.47,14.24,6.35,14.29,6.48,14.42,6.35,14.54,6.38,13.81,6.11,14.19,6.15,14.20,6.22,14.22,5.87,14.35,5.89,14.32,5.64,14.33,5.64,14.45,5.98,14.59,5.79,14.65,6.09,13.49,5.6,13.78,5.47,13.86,5.35,14.43,5.37,14.35,5.24,14.23,5.16,14.02,4.99,14.16,4.51,14.41,4.32,14.42,4.0,14.40,3.58,14.24,3.94,14.06,4.09,14.31,3.61,14.34,3.61,13.61,4.03,13.66,3.93,13.74,3.64,13.99,3.39,14.11,3.42,14.61,3.94,14.61,3.36,14.67,3.87,14.69,4.12,14.58,3.05,
14.83,14.22,14.84,12.18,14.96,11.93,14.83,11.67,14.72,11.3,15.01,10.41,15.05,10.57,14.90,10.29,15.15,10.03,15.19,9.57,15.41,9.86,14.85,9.76,14.94,9.77,14.71,9.3,14.73,9.4,14.81,9.19,14.79,8.93,15.04,9.25,15.06,9.25,14.99,8.77,14.77,8.4,14.87,8.4,14.92,8.35,14.91,8.17,15.10,8.3,15.25,8.33,15.46,8.03,15.08,7.59,15.22,7.49,15.33,7.4,14.90,7.25,14.88,7.18,14.89,6.82,15.14,7.08,15.17,6.99,15.02,6.98,15.12,6.46,14.74,6.38,14.86,6.31,14.98,6.24,14.71,6.3,14.95,5.99,15.30,5.89,14.78,5.54,14.78,5.21,14.80,4.87,14.82,4.64,15.36,5.12,15.03,4.1,15.20,4.04,14.97,3.75,14.76,3.88,14.72,3.5,14.93,3.1,
14.39,15.24,14.66,14.41,14.83,14.26,13.45,1.98,13.82,2.27,14.27,1.15,14.74,0.29,15.27,0.94,14.63,2.4,14.58,3.04,14.61,3.34,14.75,2.3,14.76,2.7
];
const subset2F=[
12.87,9.2,12.96,9.07,13.28,11.56,12.94,5.95,13.19,7.66,13.15,6.43,13.27,5.48,13.32,5.29,13.35,5.57,13.58,13.35,13.73,12.6,13.66,11.72,13.85,11.4,13.97,11.85,14.19,12.95,14.23,12.33,14.31,13.11,14.11,11.17,14.01,10.77,13.90,10.61,14.36,11.18,14.32,10.99,14.46,11.82,14.54,11.73,14.61,11.57,14.63,11.3,14.67,11.0,14.51,10.69,14.52,10.42,14.49,10.1,14.42,10.2,14.37,9.87,14.39,9.92,14.26,10.23,14.19,10.15,13.78,9.9,13.83,9.84,14.04,9.64,14.12,9.62,13.99,9.39,13.95,9.29,13.86,9.04,13.94,8.78,14.09,8.72,14.12,8.98,14.32,9.06,14.34,9.03,14.40,9.22,14.43,9.09,14.43,8.69,14.46,8.8,14.47,8.84,14.52,8.88,14.46,8.33,14.58,9.0,14.64,8.9,14.60,8.55,14.66,9.57,14.70,9.81,14.69,8.6,14.68,8.36,13.43,9.2,13.42,9.12,13.39,8.75,13.61,8.85,13.53,8.5,13.70,8.3,13.73,8.17,13.69,7.95,13.82,8.46,14.08,7.88,14.21,8.3,14.27,8.16,14.34,8.07,13.91,7.43,14.21,7.63,14.21,7.25,14.31,7.33,14.37,7.36,14.43,7.27,14.50,7.73,14.58,7.63,14.59,7.55,14.63,7.5,14.63,7.95,14.65,7.84,14.55,7.02,14.41,6.83,14.16,6.95,14.15,6.75,14.21,6.72,14.24,7.02,14.23,6.8,14.25,6.8,14.29,6.75,14.56,6.51,14.03,6.65,13.99,6.38,14.06,6.08,13.84,5.55,13.80,5.25,14.09,5.41,14.07,5.02,14.06,4.73,13.98,5.16,14.16,4.86,14.29,4.61,14.42,5.79,14.45,5.9,14.49,5.43,14.51,5.63,14.55,5.77,14.62,5.8,14.68,5.67,14.55,5.1,14.53,4.7,14.5,4.35,14.62,4.55,14.55,4.03,14.61,3.87,13.89,4.09,13.95,4.04,13.95,3.37,13.60,5.09,13.49,4.76,13.53,4.48,13.36,5.57,
15.16,13.96,15.25,14.1,15.31,12.15,14.77,12.15,14.81,12.43,14.84,12.11,14.81,11.17,15.11,11.43,15.06,11.27,15.02,10.92,15.02,10.5,15.23,11.02,15.26,10.74,15.37,10.48,14.75,9.29,14.79,9.35,14.93,9.42,14.97,9.28,14.84,8.87,14.74,8.39,15.09,8.29,15.34,8.39,14.88,8.0,14.95,7.89,14.96,7.56,14.87,7.65,15.03,7.75,14.71,7.18,15.10,7.15,14.82,6.95,14.77,6.78,14.86,6.62,15.16,6.9,15.04,6.75,14.96,6.73,14.95,6.44,15.56,6.85,14.90,6.09,15.06,5.99,15.14,6.08,14.92,5.74,14.94,5.74,14.74,5.83,14.88,5.31,14.98,5.13,15.06,5.03,15.18,5.07,14.75,4.96,14.73,4.71,14.80,4.83,14.81,4.13,15.53,3.74,14.76,3.58,14.90,3.39,15.30,3.45,14.73,2.98,
14.73,17.62,14.30,14.55,13.71,2.14,13.85,2.31,13.91,1.83,14.11,1.53,14.15,2.46,14.23,2.5,14.34,2.69,14.17,-0.09,14.31,-0.18,14.40,-0.02,14.65,2.02,14.84,0.97,15.21,2.65
];
const legendNames=["10k Full Set","200 Subset - IR","Subset 200 - 2F"];
const tableTitle="Annualized Equity Returns - 30yr Time Horizon";
const tableHeader=["Percentile","10k Full Set","Slippage - IR Strat","Slippage - 2 Factor Strat"];
const percentiles=["90","75","50","25","10","Mean"];
const fullSetReturns=["11.43%","9.61%","7.59%","5.68%","3.84%","7.64%"];
const slippageIR=["-0.34%","-0.36%","-0.19%","0.15%","-0.21%","-0.16%"];
const slippage2F=["-0.05%","-0.18%","0.10%","-0.07%","0.16%","-0.01%"];

const toPts=f=>d3.range(0,f.length-1,2).map(i=>({x:f[i],y:f[i+1]}));
const chart=Plot.plot({
  width:1829,height:771,
  marginLeft:169.6,marginRight:238,marginTop:99,marginBottom:98.6,
  style:{background:"transparent",fontFamily:"Lato,sans-serif",overflow:"visible"},
  x:{domain:[12,16]},
  y:{domain:[-5,20]},
  marks:[
    Plot.frame({fill:"#44546a",stroke:"#c4c4c4",strokeWidth:2}),
    Plot.ruleX(xGridValues,{stroke:"#d0d0d0",strokeWidth:1.6}),
    Plot.ruleY(yTickValues.slice(1,-1),{stroke:"#d0d0d0",strokeWidth:1.6}),
    Plot.axisY({ticks:yTickValues,tickSize:0,tickPadding:22,tickFormat:d=>d.toFixed(2)+"%",label:null,fontSize:20,color:"#595959",fill:"#595959"}),
    Plot.axisX({ticks:[],label:null,tickSize:0}),
    Plot.line(toPts(midOutline),{x:"x",y:"y",fill:"#bfbfbf",fillOpacity:0.28,stroke:"none",curve:"cardinal-closed"}),
    Plot.line(toPts(coreOutline),{x:"x",y:"y",fill:"#bfbfbf",stroke:"none",curve:"linear"}),
    Plot.dot(toPts(fullSet.concat(fullSetDense)),{x:"x",y:"y",r:3.7,fill:"#bfbfbf"}),
    Plot.dot(toPts(subsetIR),{x:"x",y:"y",r:6,fill:"#ed7d31"}),
    Plot.dot(toPts(subset2F),{x:"x",y:"y",r:6,fill:"#32cd32"}),
    Plot.text(xLabelValues,{x:d=>d,y:()=>0,dy:31,text:d=>String(d),fill:"#595959",fontSize:20})
  ]
});
const root=document.getElementById("root");
root.appendChild(chart);
const el=(cls,css,txt)=>{const d=document.createElement("div");d.className=cls;d.style.cssText=css;if(txt!=null)d.textContent=txt;root.appendChild(d);return d;};
el("","position:absolute;left:7px;top:3px;width:1622px;height:735px;border:2px solid #d9d9d9;pointer-events:none");
el("abs","left:0;width:1640px;text-align:center;top:24px;font-size:33px;line-height:42px","200 Subset Scenarios - Picking Methodology Comparison");
el("abs","left:55px;top:434px;transform:translate(-50%,-50%) rotate(-90deg);font:700 22px 'Liberation Sans',sans-serif","Annualized Equity Returns");
el("abs","left:778px;top:698px;transform:translate(-50%,-50%);font-weight:700;font-size:23.5px","Interest Rate Significance");
el("","position:absolute;left:1408px;top:97px;width:186px;height:142px;background:#fff");
const legColors=["#bfbfbf","#ed7d31","#32cd32"],legR=[3.7,6,6],legY=[46,123,200];
legendNames.forEach((n,i)=>{
  el("sw",`left:${1445-legR[i]}px;top:${legY[i]-legR[i]}px;width:${2*legR[i]}px;height:${2*legR[i]}px;background:${legColors[i]}`);
  el("abs",`left:1458px;top:${legY[i]-13}px;font-size:20px;line-height:26px`,n);
});
const rowH=[27,27,27,27,27,23];
let html=`<colgroup><col style="width:96px"><col style="width:112.5px"><col style="width:176px"><col style="width:206.5px"></colgroup>`;
html+=`<tr class="h" style="height:26px"><td colspan="4" style="font-size:18.5px">${tableTitle}</td></tr>`;
html+=`<tr class="h" style="height:27px">${tableHeader.map(h=>`<td>${h}</td>`).join("")}</tr>`;
percentiles.forEach((p,i)=>{
  const m=p==="Mean";
  html+=`<tr class="${m?"m":""}" style="height:${rowH[i]}px"><td class="c">${p}</td><td class="n">${fullSetReturns[i]}</td><td class="n${m?" flag":""}">${slippageIR[i]}</td><td class="n">${slippage2F[i]}</td></tr>`;
});
const t=document.createElement("table");t.innerHTML=html;root.appendChild(t);
</script></body></html>
